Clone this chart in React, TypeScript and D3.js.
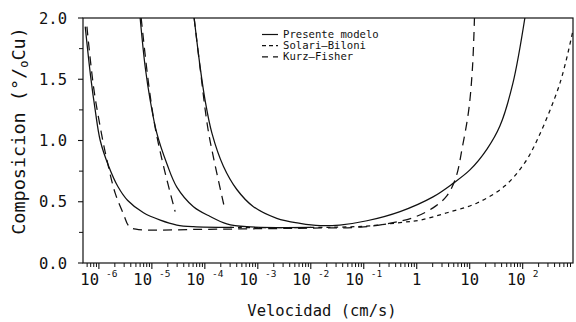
import React from "react";
import * as d3 from "d3";

// ---- data (velocity in cm/s, composition in %Cu) ----
const presente1: [number, number][] = [
  [5.52e-7, 1.93], [7.0e-7, 1.52], [8.51e-7, 1.25], [1.06e-6, 1.0], [1.53e-6, 0.79],
  [2.31e-6, 0.62], [3.5e-6, 0.51], [6.95e-6, 0.41], [1.44e-5, 0.35], [2.96e-5, 0.31],
  [6.1e-5, 0.296], [3.2e-4, 0.29],
];
const presente2: [number, number][] = [
  [6.01e-6, 2.0], [7.48e-6, 1.6], [9.29e-6, 1.33], [1.24e-5, 1.06], [1.92e-5, 0.81],
  [2.96e-5, 0.62], [6.1e-5, 0.46], [1.26e-4, 0.38], [2.6e-4, 0.32], [6.19e-4, 0.296],
  [1e-2, 0.29],
];
const presente3: [number, number][] = [
  [6.28e-5, 2.0], [8.15e-5, 1.6], [1.01e-4, 1.33], [1.36e-4, 1.06], [2.24e-4, 0.79],
  [4.02e-4, 0.6], [8.26e-4, 0.46], [2.28e-3, 0.365], [6.28e-3, 0.324], [1.5e-2, 0.305],
  [3.5e-2, 0.31], [0.115, 0.345], [0.484, 0.42], [2.03, 0.54], [4.84, 0.65],
  [10.1, 0.76], [21.2, 0.93], [37.3, 1.12], [65.6, 1.47], [110, 2.0],
];
const kurz1: [number, number][] = [
  [5.94e-7, 1.93], [7.91e-7, 1.44], [1.06e-6, 1.11], [1.42e-6, 0.84], [2.03e-6, 0.57],
  [2.91e-6, 0.4], [3.7e-6, 0.3], [5.0e-6, 0.276], [8.2e-5, 0.275], [1e-3, 0.28],
  [1e-2, 0.285], [0.1, 0.295], [0.357, 0.33], [0.85, 0.37], [2.03, 0.45], [3.73, 0.55],
  [5.5, 0.7], [7.3, 0.95], [9.6, 1.25], [11.3, 1.6], [12.3, 2.0],
];
const kurz2: [number, number][] = [
  [6.28e-6, 2.0], [8.63e-6, 1.47], [1.15e-5, 1.11], [1.66e-5, 0.79], [2.75e-5, 0.42],
];
const kurz3: [number, number][] = [
  [6.28e-5, 2.0], [8.15e-5, 1.59], [1.13e-4, 1.11], [1.49e-4, 0.84], [2.41e-4, 0.43],
];
const solari: [number, number][] = [
  [3e-4, 0.29], [1e-2, 0.29], [0.1, 0.3], [0.484, 0.33], [1.15, 0.35], [3.72, 0.41],
  [13.8, 0.49], [46.3, 0.63], [110, 0.82], [195, 1.02], [507, 1.47], [891, 1.9],
];

const xMajorExps = [-6, -5, -4, -3, -2, -1, 0, 1, 2];
const xMajorLabels: [string, string][] = [
  ["10", "-6"], ["10", "-5"], ["10", "-4"], ["10", "-3"], ["10", "-2"], ["10", "-1"],
  ["1", ""], ["10", ""], ["10", "2"],
];
const yMajor = [0, 0.5, 1.0, 1.5, 2.0];
const yMajorLabels = ["0.0", "0.5", "1.0", "1.5", "2.0"];
const yMinor = [0.25, 0.75, 1.25, 1.75];

const legendItems = [
  { label: "Presente modelo", dash: "none" },
  { label: "Solari\u2013Biloni", dash: "4,3" },
  { label: "Kurz\u2013Fisher", dash: "6,5" },
];

const W = 576, H = 322;
const L = 83, R = 573, T = 18, B = 263;
const FONT = "'DejaVu Sans Mono', monospace";

export default function App() {
  const x = d3.scaleLog().domain([Math.pow(10, -6.3), Math.pow(10, 2.95)]).range([L, R]);
  const y = d3.scaleLinear().domain([0, 2]).range([B, T]);
  const line = d3
    .line<[number, number]>()
    .x((d) => x(d[0]))
    .y((d) => y(d[1]))
    .curve(d3.curveCatmullRom.alpha(0.5));

  const minors: number[] = [];
  for (let e = -7; e <= 2; e++) {
    for (let k = 2; k <= 9; k++) {
      const v = k * Math.pow(10, e);
      const px = x(v);
      if (px > L + 0.5 && px < R - 0.5) minors.push(v);
    }
  }

  const solidSeries = [presente1, presente2, presente3];
  const kurzSeries = [kurz1, kurz2, kurz3];

  return (
    <svg width={W} height={H} style={{ position: "absolute", left: 0, top: 0, background: "#fff" }}>
      <defs>
        <clipPath id="plotclip">
          <rect x={L} y={T} width={R - L} height={B - T} />
        </clipPath>
      </defs>
      <rect x={0} y={0} width={W} height={H} fill="#fff" />

      {/* frame */}
      <rect x={L} y={T} width={R - L} height={B - T} fill="none" stroke="#111" strokeWidth={1.2} />

      {/* x ticks */}
      {xMajorExps.map((e) => (
        <line key={"xM" + e} x1={x(Math.pow(10, e))} x2={x(Math.pow(10, e))} y1={B} y2={B + 6} stroke="#111" strokeWidth={1.1} />
      ))}
      {minors.map((v, i) => (
        <line key={"xm" + i} x1={x(v)} x2={x(v)} y1={B} y2={B + 4} stroke="#111" strokeWidth={1} />
      ))}
      {xMajorExps.map((e, i) => (
        <text
          key={"xl" + e}
          x={x(Math.pow(10, e))}
          y={285}
          textAnchor="middle"
          fontFamily={FONT}
          fontSize={15.5}
          fill="#111"
        >
          <tspan>{xMajorLabels[i][0]}</tspan>
          {xMajorLabels[i][1] !== "" && (
            <tspan dx={7} dy={-8} fontSize={9.5}>
              {xMajorLabels[i][1]}
            </tspan>
          )}
        </text>
      ))}

      {/* y ticks */}
      {yMajor.map((v) => (
        <line key={"yM" + v} x1={L - 5} x2={L} y1={y(v)} y2={y(v)} stroke="#111" strokeWidth={1.1} />
      ))}
      {yMinor.map((v) => (
        <line key={"ym" + v} x1={L - 4} x2={L} y1={y(v)} y2={y(v)} stroke="#111" strokeWidth={1} />
      ))}
      {yMajor.map((v, i) => (
        <text key={"yl" + v} x={67} y={y(v) + 5.5} textAnchor="end" fontFamily={FONT} fontSize={15.5} fill="#111">
          {yMajorLabels[i]}
        </text>
      ))}

      {/* axis titles */}
      <text x={322} y={316} textAnchor="middle" fontFamily={FONT} fontSize={15.5} fill="#111">
        Velocidad (cm/s)
      </text>
      <text
        transform="translate(25,131) rotate(-90)"
        textAnchor="middle"
        fontFamily={FONT}
        fontSize={18.5}
        fill="#111"
      >
        Composicion (°/<tspan fontSize={12} dy={3}>o</tspan>
        <tspan dy={-3}>Cu)</tspan>
      </text>

      {/* curves */}
      <g clipPath="url(#plotclip)" fill="none" stroke="#111" strokeWidth={1.25}>
        {solidSeries.map((s, i) => (
          <path key={"s" + i} d={line(s) || ""} />
        ))}
        {kurzSeries.map((s, i) => (
          <path key={"k" + i} d={line(s) || ""} strokeDasharray="9,6" />
        ))}
        <path d={line(solari) || ""} strokeDasharray="4,4" />
      </g>

      {/* legend */}
      {legendItems.map((it, i) => {
        const ly = 34.5 + i * 11.2;
        return (
          <g key={"lg" + i}>
            <line x1={262} x2={278} y1={ly} y2={ly} stroke="#111" strokeWidth={1.2} strokeDasharray={it.dash} />
            <text x={283} y={ly + 3.5} fontFamily={FONT} fontSize={10.6} fill="#111">
              {it.label}
            </text>
          </g>
        );
      })}
    </svg>
  );
}
